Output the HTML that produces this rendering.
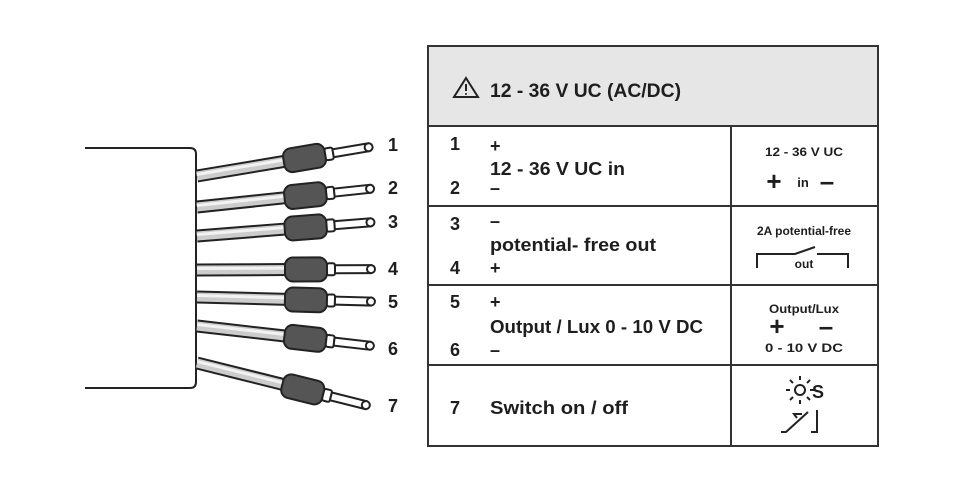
<!DOCTYPE html>
<html><head><style>body{margin:0;background:#fff}svg{display:block}text{font-family:"Liberation Sans",sans-serif;font-weight:bold;fill:#1e1e1e}</style></head><body>
<svg width="970" height="493" viewBox="0 0 970 493" xmlns="http://www.w3.org/2000/svg">
<defs>
<g id="wire">
<line x1="0" y1="0" x2="95" y2="0" stroke="#222" stroke-width="13"/>
<line x1="0" y1="0" x2="95" y2="0" stroke="#ccc" stroke-width="9"/>
<line x1="0" y1="-1.5" x2="95" y2="-1.5" stroke="#f2f2f2" stroke-width="3"/>
<rect x="88" y="-12" width="42" height="24" rx="8" fill="#555" stroke="#222" stroke-width="2"/>
<rect x="130" y="-6" width="8" height="12" rx="2" fill="#fff" stroke="#222" stroke-width="2"/>
<rect x="138" y="-4" width="36" height="8" fill="#fff" stroke="#222" stroke-width="2"/>
<circle cx="174" cy="0" r="4" fill="#fff" stroke="#222" stroke-width="2"/>
</g>
</defs>
<path d="M85 148 H190 Q196 148 196 154 V382 Q196 388 190 388 H85" fill="none" stroke="#222" stroke-width="2"/>
<use href="#wire" transform="translate(197,176) rotate(-9.5)"/>
<use href="#wire" transform="translate(197,207) rotate(-6)"/>
<use href="#wire" transform="translate(197,236) rotate(-4.5)"/>
<use href="#wire" transform="translate(197,270) rotate(-0.3)"/>
<use href="#wire" transform="translate(197,297) rotate(1.5)"/>
<use href="#wire" transform="translate(197,326) rotate(6.5)"/>
<use href="#wire" transform="translate(197,363) rotate(14)"/>
<g font-size="18">
<text x="388" y="151">1</text><text x="388" y="194">2</text><text x="388" y="228">3</text>
<text x="388" y="275">4</text><text x="388" y="308">5</text><text x="388" y="355">6</text><text x="388" y="412">7</text>
</g>
<rect x="428" y="46" width="450" height="80" fill="#e6e6e6"/>
<rect x="428" y="46" width="450" height="400" fill="none" stroke="#333" stroke-width="2"/>
<g stroke="#333" stroke-width="2">
<line x1="428" y1="126" x2="878" y2="126"/><line x1="428" y1="206" x2="878" y2="206"/>
<line x1="428" y1="285" x2="878" y2="285"/><line x1="428" y1="365" x2="878" y2="365"/>
<line x1="731" y1="126" x2="731" y2="446"/>
</g>
<path d="M466 78 L478 97 L454 97 Z" fill="none" stroke="#222" stroke-width="2"/>
<line x1="466" y1="84" x2="466" y2="91" stroke="#222" stroke-width="2"/><circle cx="466" cy="94" r="1" fill="#222"/>
<text x="490" y="97" font-size="19" textLength="191" lengthAdjust="spacingAndGlyphs">12 - 36 V UC (AC/DC)</text>
<g font-size="18">
<text x="450" y="150">1</text><text x="490" y="152">+</text>
<text x="490" y="175" textLength="135" lengthAdjust="spacingAndGlyphs">12 - 36 V UC in</text>
<text x="450" y="194">2</text><text x="490" y="194">–</text>
<text x="450" y="230">3</text><text x="490" y="227">–</text>
<text x="490" y="251" textLength="166" lengthAdjust="spacingAndGlyphs">potential- free out</text>
<text x="450" y="274">4</text><text x="490" y="274">+</text>
<text x="450" y="308">5</text><text x="490" y="308">+</text>
<text x="490" y="333" textLength="213" lengthAdjust="spacingAndGlyphs" font-weight="normal">Output / Lux 0 - 10 V DC</text>
<text x="450" y="356">6</text><text x="490" y="356">–</text>
<text x="450" y="414">7</text>
<text x="490" y="414" textLength="138" lengthAdjust="spacingAndGlyphs">Switch on / off</text>
</g>
<g font-size="12" text-anchor="middle">
<text x="804" y="156" textLength="78" lengthAdjust="spacingAndGlyphs">12 - 36 V UC</text>
<text x="774" y="190" font-size="26">+</text><text x="803" y="187" font-size="13">in</text><text x="827" y="190" font-size="26">–</text>
<text x="804" y="235" textLength="94" lengthAdjust="spacingAndGlyphs">2A potential-free</text>
<text x="804" y="268">out</text>
<text x="804" y="313" textLength="70" lengthAdjust="spacingAndGlyphs">Output/Lux</text>
<text x="777" y="335" font-size="26">+</text><text x="826" y="335" font-size="26">–</text>
<text x="804" y="352" textLength="78" lengthAdjust="spacingAndGlyphs">0 - 10 V DC</text>
<text x="818" y="398" font-size="18">S</text>
</g>
<g stroke="#222" stroke-width="2" fill="none">
<path d="M757 268 V254 H795 L815 247 M817 254 H848 V268"/>
<circle cx="800" cy="390" r="5"/>
<path d="M800 380 v-4 M800 400 v4 M790 390 h-4 M810 390 h4 M793 383 l-3 -3 M807 383 l3 -3 M793 397 l-3 3 M807 397 l3 3"/>
<path d="M781 432 h5 l22 -20 M797 418 l-3 -4 h8 M811 432 h6 V410"/>
</g>
</svg>
</body></html>
